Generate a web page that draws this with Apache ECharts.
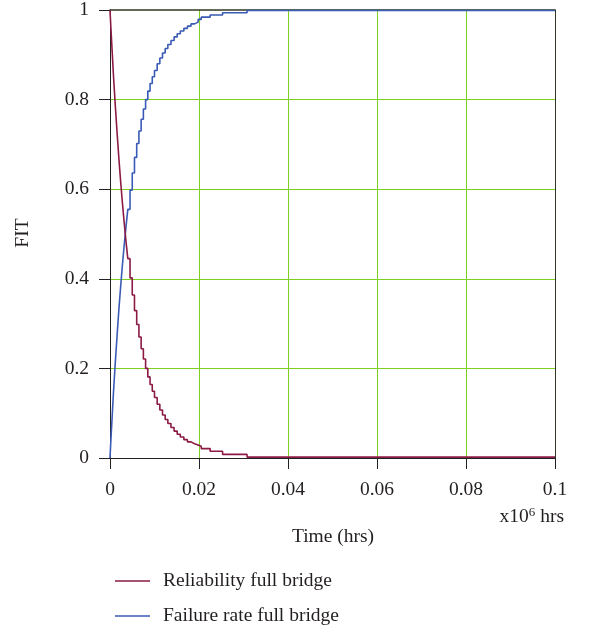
<!DOCTYPE html>
<html>
<head>
<meta charset="utf-8">
<script src="https://cdn.jsdelivr.net/npm/echarts@6/dist/echarts.min.js"></script>
<style>
  html, body { margin: 0; padding: 0; background: #fff; }
  #chart { width: 608px; height: 627px; }
</style>
</head>
<body>
<div id="chart"></div>
<script>
// time in x10^6 hrs
const times = [0, 0.0002, 0.0005, 0.0008, 0.0012, 0.0016, 0.002, 0.0024, 0.0028, 0.0032, 0.0036, 0.004,
  0.0045, 0.005, 0.0055, 0.006, 0.0065, 0.007, 0.0075, 0.008, 0.0085, 0.009, 0.0095, 0.010,
  0.0106, 0.0112, 0.0118, 0.0124, 0.013, 0.0137, 0.0144, 0.0151, 0.0158, 0.0166, 0.0174, 0.0182,
  0.019, 0.0198, 0.0205, 0.0225, 0.0253, 0.0308, 0.1];
const reliability = [1, 0.96, 0.905, 0.85, 0.785, 0.725, 0.668, 0.616, 0.568, 0.524, 0.483, 0.445,
  0.402, 0.364, 0.329, 0.298, 0.27, 0.244, 0.221, 0.2, 0.181, 0.164, 0.149, 0.135,
  0.12, 0.107, 0.096, 0.086, 0.077, 0.068, 0.06, 0.053, 0.047, 0.041, 0.036, 0.032,
  0.029, 0.026, 0.021, 0.015, 0.008, 0.002, 0.002];
const failure = [0, 0.04, 0.095, 0.15, 0.215, 0.275, 0.332, 0.384, 0.432, 0.476, 0.517, 0.555,
  0.598, 0.636, 0.671, 0.702, 0.73, 0.756, 0.779, 0.8, 0.819, 0.836, 0.851, 0.865,
  0.88, 0.893, 0.904, 0.914, 0.923, 0.932, 0.94, 0.947, 0.953, 0.959, 0.964, 0.969,
  0.973, 0.979, 0.984, 0.989, 0.994, 0.999, 0.999];
const seriesNames = ["Reliability full bridge", "Failure rate full bridge"];
const seriesColors = ["#8b1a45", "#3a5bb5"];

const font = "'Liberation Serif', 'DejaVu Serif', serif";
const textColor = "#231f20";
const gridGreen = "#7fcf1f";

const chart = echarts.init(document.getElementById("chart"));

// one legend per entry, stacked
const legends = seriesNames.map((name, i) => ({
  left: 110,
  top: 566 + i * 35,
  icon: "rect",
  itemWidth: 35,
  itemHeight: 1.5,
  itemStyle: { color: seriesColors[i] },
  textStyle: { fontFamily: font, fontSize: 19.5, color: textColor, padding: [0, 0, 0, 8] },
  data: [name]
}));

const option = {
  backgroundColor: "#fff",
  animation: false,
  grid: { left: 110, right: 53, top: 8, bottom: 169 },
  xAxis: [
    {
      type: "value",
      min: 0,
      max: 0.1,
      interval: 0.02,
      axisLine: { show: true, onZero: false, lineStyle: { color: "#222", width: 1 } },
      axisTick: { show: true, length: 11, lineStyle: { color: "#222" } },
      axisLabel: { margin: 22, fontFamily: font, fontSize: 19.5, color: textColor },
      splitLine: { show: true, showMaxLine: false, lineStyle: { color: gridGreen, width: 1 } }
    },
    {
      type: "value",
      position: "top",
      min: 0,
      max: 0.1,
      axisLine: { show: true, onZero: false, lineStyle: { color: "#2f3a20", width: 1.5 } },
      axisTick: { show: false },
      axisLabel: { show: false },
      splitLine: { show: false }
    }
  ],
  yAxis: [
    {
      type: "value",
      min: 0,
      max: 1,
      interval: 0.2,
      axisLine: { show: true, onZero: false, lineStyle: { color: "#222", width: 1 } },
      axisTick: { show: true, length: 11, lineStyle: { color: "#222" } },
      axisLabel: { margin: 21, fontFamily: font, fontSize: 19.5, color: textColor },
      splitLine: { show: true, showMaxLine: false, lineStyle: { color: gridGreen, width: 1 } }
    },
    {
      type: "value",
      position: "right",
      min: 0,
      max: 1,
      axisLine: { show: true, onZero: false, lineStyle: { color: "#2f3a20", width: 1 } },
      axisTick: { show: false },
      axisLabel: { show: false },
      splitLine: { show: false }
    }
  ],
  legend: legends,
  graphic: [
    {
      type: "text",
      rotation: Math.PI / 2,
      x: 23,
      y: 233,
      style: { text: "FIT", fontFamily: font, fontSize: 19.5, fill: textColor, align: "center", verticalAlign: "middle" }
    },
    {
      type: "text",
      x: 333,
      y: 537,
      style: { text: "Time (hrs)", fontFamily: font, fontSize: 19.5, fill: textColor, align: "center", verticalAlign: "middle" }
    },
    {
      type: "text",
      x: 564,
      y: 517,
      style: {
        text: "x10{sup|6} hrs",
        fontFamily: font,
        fontSize: 19.5,
        fill: textColor,
        align: "right",
        verticalAlign: "middle",
        rich: { sup: { fontFamily: font, fontSize: 13, fill: textColor, verticalAlign: "top", padding: [0, 0, 9, 0] } }
      }
    }
  ],
  series: seriesNames.map((name, i) => ({
    name: name,
    type: "line",
    step: "end",
    symbol: "none",
    data: times.map((t, k) => [t, (i === 0 ? reliability : failure)[k]]),
    lineStyle: { color: seriesColors[i], width: 1.6 },
    itemStyle: { color: seriesColors[i] },
    z: 5 - i
  }))
};

chart.setOption(option);
</script>
</body>
</html>
